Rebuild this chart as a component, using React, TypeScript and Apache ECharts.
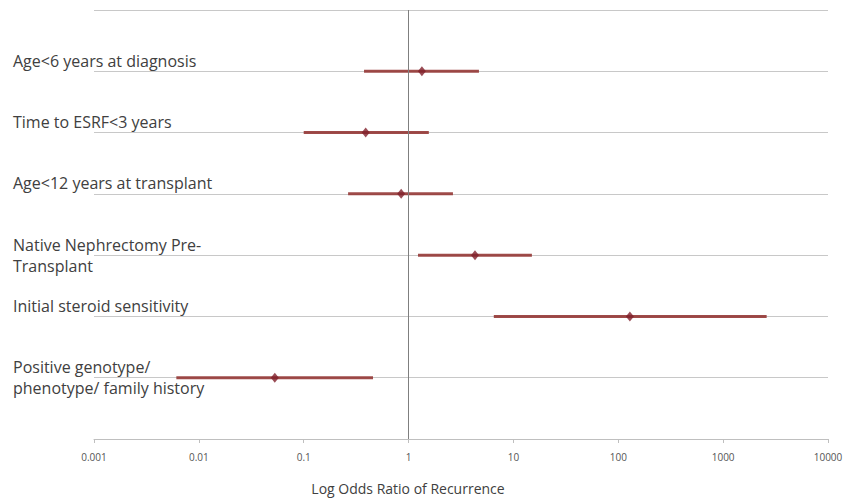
import React, { useEffect, useRef } from "react";
import * as echarts from "echarts";

const categories = [
  "Age<6 years at diagnosis",
  "Time to ESRF<3 years",
  "Age<12 years at transplant",
  "Native Nephrectomy Pre-\nTransplant",
  "Initial steroid sensitivity",
  "Positive genotype/\nphenotype/ family history",
];
const estimate = [1.34, 0.39, 0.85, 4.3, 129, 0.053];
const lower = [0.376, 0.1, 0.265, 1.23, 6.5, 0.0061];
const upper = [4.69, 1.56, 2.65, 15, 2600, 0.458];
const xTickLabels = ["0.001", "0.01", "0.1", "1", "10", "100", "1000", "10000"];
const axisTitle = "Log Odds Ratio of Recurrence";

const FONT = "'Open Sans', Lato, sans-serif";
const BAR_COLOR = "#953735";

export default function App() {
  const ref = useRef<HTMLDivElement>(null);
  useEffect(() => {
    document.body.style.margin = "0";
    const chart = echarts.init(ref.current!, null, { renderer: "svg" });
    const n = categories.length;
    const rows = categories.map((_, i) => [lower[i], upper[i], estimate[i], n - i]);
    const points = categories.map((_, i) => [estimate[i], n - i]);
    chart.setOption({
      animation: false,
      backgroundColor: "#ffffff",
      textStyle: { fontFamily: FONT, color: "#404040" },
      grid: { left: 94, right: 18, top: 10, bottom: 60, outerBoundsMode: "none" },
      xAxis: {
        type: "log",
        logBase: 10,
        min: 0.001,
        max: 10000,
        name: axisTitle,
        nameLocation: "middle",
        nameGap: 42,
        nameTextStyle: { fontSize: 14, color: "#404040", fontFamily: FONT, padding: [0, 106, 0, 0] },
        axisLine: { show: true, lineStyle: { color: "#bfbfbf", width: 1 } },
        axisTick: { show: true, inside: false, length: 4, lineStyle: { color: "#bfbfbf" } },
        minorTick: { show: false },
        splitLine: { show: false },
        axisLabel: {
          fontSize: 10,
          color: "#555555",
          fontFamily: FONT,
          margin: 13,
          formatter: (v: number) => {
            const idx = Math.round(Math.log10(v)) + 3;
            return xTickLabels[idx] ?? "";
          },
        },
      },
      yAxis: {
        type: "value",
        min: 0,
        max: n + 1,
        interval: 1,
        axisLine: { show: false },
        axisTick: { show: false },
        splitLine: { show: true, lineStyle: { color: "#c8c8c8", width: 1 } },
        axisLabel: {
          align: "left",
          verticalAlign: "middle",
          margin: 81,
          fontSize: 16,
          lineHeight: 21,
          color: "#404040",
          fontFamily: FONT,
          formatter: (v: number) => {
            const i = n - Math.round(v);
            if (i < 0 || i >= n) return "";
            const name = categories[i];
            return name.includes("\n") ? name : name + "\n ";
          },
        },
      },
      series: [
        {
          type: "custom",
          encode: { x: [0, 1, 2], y: 3 },
          data: rows,
          renderItem: (params: any, api: any) => {
            const y = api.value(3);
            const a = api.coord([api.value(0), y]);
            const b = api.coord([api.value(1), y]);
            return {
              type: "line",
              shape: { x1: a[0], y1: a[1], x2: b[0], y2: b[1] },
              style: { stroke: BAR_COLOR, lineWidth: 3, opacity: 0.9 },
            };
          },
          markLine: {
            silent: true,
            symbol: "none",
            label: { show: false },
            lineStyle: { color: "#7f7f7f", width: 1, type: "solid" },
            data: [{ xAxis: 1 }],
          },
          z: 2,
        },
        {
          type: "scatter",
          data: points,
          symbol: "diamond",
          symbolSize: [8, 10],
          itemStyle: { color: "#7f1f2a" },
          z: 3,
        },
      ],
    });
    return () => chart.dispose();
  }, []);
  return <div ref={ref} style={{ width: 846, height: 499 }} />;
}
